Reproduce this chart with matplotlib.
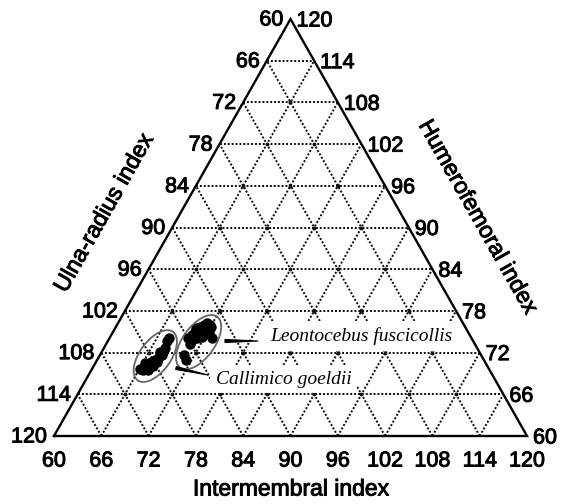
import numpy as np
import matplotlib.pyplot as plt
import matplotlib.patheffects as pe
from matplotlib.patches import Ellipse

# data (index values)
ticks = [60, 66, 72, 78, 84, 90, 96, 102, 108, 114, 120]
callimico_im = [66.0, 66.6, 66.8, 67.1, 67.0, 67.3, 67.6, 67.8, 67.8, 67.8, 67.5, 67.5, 66.3, 67.5, 67.4, 67.7, 67.2]
callimico_ur = [110.3, 110.5, 110.0, 109.8, 109.3, 109.1, 108.8, 108.3, 107.9, 107.4, 106.4, 105.9, 109.5, 109.9, 107.9, 109.3, 110.5]
leonto_im = [70.0, 70.2, 70.4, 70.3, 70.7, 71.0, 71.3, 71.8, 72.1, 72.1, 71.8, 71.6, 71.1, 70.6, 73.0, 70.6, 70.6, 71.3]
leonto_ur = [105.9, 105.5, 105.0, 104.5, 104.3, 104.0, 103.8, 104.0, 104.3, 105.0, 105.2, 105.7, 105.9, 106.2, 105.9, 106.7, 108.3, 109.1]
ell_im = [67.1, 71.6]
ell_ur = [108.5, 106.5]

# triangle in pixels
XL, XR, YB, YT = 54.0, 527.0, 436.0, 19.0
W = XR - XL
H = YB - YT

def tern(im, ur):
    f = (np.asarray(im) - 60) / 60.
    h = (120 - np.asarray(ur)) / 60.
    return XL + f * W + h * W / 2, YB - h * H

fig = plt.figure(figsize=(5.61, 5.04), dpi=100)
ax = fig.add_axes([0, 0, 1, 1])
ax.set_xlim(0, 561)
ax.set_ylim(504, 0)
ax.axis('off')

sans = 'Liberation Sans'
thick = [pe.withStroke(linewidth=0.7, foreground='black')]
dot = dict(color='#0a0a0a', lw=1.4, ls=(0, (1, 1.0)), zorder=1)

# grid
for k in range(1, 10):
    h = 1 - k / 10.
    ax.plot([XL + h * W / 2, XR - h * W / 2], [YB - h * H, YB - h * H], **dot)
    ax.plot([XL + k * W / 10, XR - (1 - k / 10.) * W / 2], [YB, YB - (1 - k / 10.) * H], **dot)
    ax.plot([XL + k * W / 10, XL + k / 10. * W / 2], [YB, YB - k / 10. * H], **dot)

# intersection dots
px, py = [], []
for r in range(1, 10):
    for c in range(1, 10 - r):
        x, y = tern(60 + 6 * c, 120 - 6 * r)
        px.append(x)
        py.append(y)
ax.plot(px, py, 'o', color='#111111', ms=2.8, mew=0, zorder=1)

ax.plot([XL, XR, (XL + XR) / 2, XL], [YB, YB, YT, YB], color='black', lw=1.7, zorder=5,
        solid_joinstyle='miter')

# tick labels
for k, v in enumerate(ticks):
    h = 1 - k / 10.
    ax.text(XL + h * W / 2 - 7, YB - h * H + 1, str(v), ha='right', va='center',
            fontsize=15.5, family=sans, path_effects=thick)
    ax.text(XR - h * W / 2 + 6, YB - h * H + 2, str(ticks[10 - k]), ha='left', va='center',
            fontsize=15.5, family=sans, path_effects=thick)
    ax.text(XL + k * W / 10, YB + 25, str(v), ha='center', va='center',
            fontsize=15.5, family=sans, path_effects=thick)

ang = np.degrees(np.arctan2(H, W / 2))
ax.text(291, 489, 'Intermembral index', ha='center', va='center', fontsize=16.5, family=sans,
        path_effects=thick)
ax.text(104, 213, 'Ulna-radius index', ha='center', va='center', fontsize=16.5, family=sans,
        rotation=ang, rotation_mode='anchor', path_effects=thick)
ax.text(478, 217, 'Humerofemoral index', ha='center', va='center', fontsize=16.5, family=sans,
        rotation=-ang, rotation_mode='anchor', path_effects=thick)

# data
cx, cy = tern(callimico_im, callimico_ur)
lx, ly = tern(leonto_im, leonto_ur)
ax.plot(cx, cy, 'o', color='black', ms=7.5, mew=0, zorder=4)
ax.plot(lx, ly, 'o', color='black', ms=7.5, mew=0, zorder=4)

ex, ey = tern(ell_im, ell_ur)
ax.add_patch(Ellipse((ex[0], ey[0]), 60, 31, angle=-54, fill=False, ec='#666666', lw=1.3, zorder=4))
ax.add_patch(Ellipse((ex[1], ey[1]), 63, 32, angle=-54, fill=False, ec='#666666', lw=1.3, zorder=4))

box = dict(facecolor='white', edgecolor='none', pad=4)
ax.text(270, 336, 'Leontocebus fuscicollis', ha='left', va='center', fontsize=14,
        family='Liberation Serif', style='italic', bbox=box, zorder=3)
ax.text(216, 379, 'Callimico goeldii', ha='left', va='center', fontsize=14,
        family='Liberation Serif', style='italic', bbox=box, zorder=3)

ax.annotate('', xy=(258, 341), xytext=(225, 341),
            arrowprops=dict(arrowstyle='wedge,tail_width=0.22', fc='black', ec='black', lw=0.8,
                            shrinkA=0, shrinkB=0), zorder=4)
ax.annotate('', xy=(208, 375), xytext=(176, 368),
            arrowprops=dict(arrowstyle='wedge,tail_width=0.22', fc='black', ec='black', lw=0.8,
                            shrinkA=0, shrinkB=0), zorder=4)

fig.savefig('out.png', dpi=100)
